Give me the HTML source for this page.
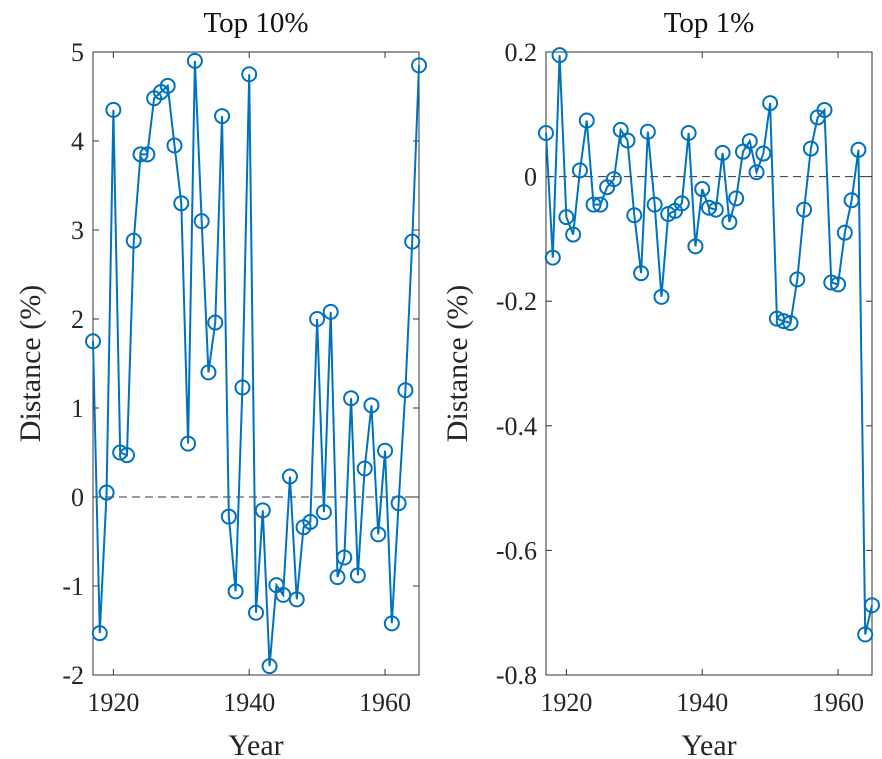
<!DOCTYPE html>
<html><head><meta charset="utf-8"><style>
body{margin:0;background:#fff;}
svg{display:block;font-family:"Liberation Serif",serif;}
</style></head><body>
<svg id="c" width="882" height="759"></svg>
<script>
const years=[];for(let y=1917;y<=1965;y++)years.push(y);
const top10=[1.75,-1.53,0.05,4.35,0.5,0.47,2.88,3.85,3.85,4.48,4.55,4.62,3.95,3.3,0.6,4.9,3.1,1.4,1.96,4.28,-0.22,-1.06,1.23,4.75,-1.3,-0.15,-1.9,-0.99,-1.1,0.23,-1.15,-0.34,-0.28,2.0,-0.17,2.08,-0.9,-0.68,1.11,-0.88,0.32,1.03,-0.42,0.52,-1.42,-0.07,1.2,2.87,4.85];
const top1=[0.07,-0.13,0.195,-0.065,-0.093,0.01,0.09,-0.045,-0.045,-0.017,-0.004,0.075,0.058,-0.062,-0.155,0.072,-0.045,-0.193,-0.06,-0.055,-0.043,0.07,-0.112,-0.02,-0.05,-0.053,0.038,-0.073,-0.035,0.04,0.057,0.007,0.037,0.118,-0.228,-0.232,-0.235,-0.165,-0.053,0.045,0.095,0.107,-0.17,-0.173,-0.09,-0.038,0.043,-0.735,-0.688];
const xTicks=[1920,1940,1960];
const yTicks10=[-2,-1,0,1,2,3,4,5];
const yTicks1=[-0.8,-0.6,-0.4,-0.2,0,0.2];
const yLabels1=["-0.8","-0.6","-0.4","-0.2","0","0.2"];
const svg=document.getElementById('c');
const NS='http://www.w3.org/2000/svg';
function mk(t,a,p){const e=document.createElementNS(NS,t);for(const k in a)e.setAttribute(k,a[k]);(p||svg).appendChild(e);return e;}
function panel(name,L,R,T,B,ymin,ymax,yt,ylab,data,title,yx){
  const g=mk('g',{});
  
  
  const sx=v=>L+(v-1917)/(1965-1917)*(R-L);
  const sy=v=>B-(v-ymin)/(ymax-ymin)*(B-T);
  const z=mk('line',{x1:L,x2:R,y1:sy(0),y2:sy(0),stroke:'#333','stroke-width':1,'stroke-dasharray':'8,5'},g);
  
  
  const box=mk('rect',{x:L,y:T,width:R-L,height:B-T,fill:'none',stroke:'#333','stroke-width':1},g);
  
  
  xTicks.forEach(t=>{const x=sx(t);
    mk('line',{x1:x,x2:x,y1:B,y2:B-6,stroke:'#333'},g);mk('line',{x1:x,x2:x,y1:T,y2:T+6,stroke:'#333'},g);
    const tx=mk('text',{x:x,y:B+36,'text-anchor':'middle','font-size':26,fill:'#262626'},g);tx.textContent=t;
    
    });
  yt.forEach((t,i)=>{const y=sy(t);
    mk('line',{x1:L,x2:L+6,y1:y,y2:y,stroke:'#333'},g);mk('line',{x1:R,x2:R-6,y1:y,y2:y,stroke:'#333'},g);
    const tx=mk('text',{x:L-9,y:y+9,'text-anchor':'end','font-size':26,fill:'#262626'},g);tx.textContent=ylab[i];
    
    });
  const pts=years.map((y,i)=>sx(y)+','+sy(data[i])).join(' ');
  const pl=mk('polyline',{points:pts,fill:'none',stroke:'#0072BD','stroke-width':2},g);
  
  
  years.forEach((y,i)=>{const c=mk('circle',{cx:sx(y),cy:sy(data[i]),r:7,fill:'none',stroke:'#0072BD','stroke-width':2},g);
    
    });
  const ti=mk('text',{x:(L+R)/2,y:T-20,'text-anchor':'middle','font-size':29,fill:'#111'},g);ti.textContent=title;
  
  
  const xl=mk('text',{x:(L+R)/2,y:B+80,'text-anchor':'middle','font-size':30,fill:'#262626'},g);xl.textContent='Year';
  
  
  const yl=mk('text',{x:yx,y:(T+B)/2,'text-anchor':'middle','font-size':30,fill:'#262626',transform:'rotate(-90 '+yx+' '+(T+B)/2+')'},g);yl.textContent='Distance (%)';
  
  
}
panel('panel-top10',93,419,52,675,-2,5,yTicks10,yTicks10.map(v=>String(v)),top10,'Top 10%',40);
panel('panel-top1',546,872,52,675,-0.8,0.2,yTicks1,yLabels1,top1,'Top 1%',467);
</script>
</body></html>
